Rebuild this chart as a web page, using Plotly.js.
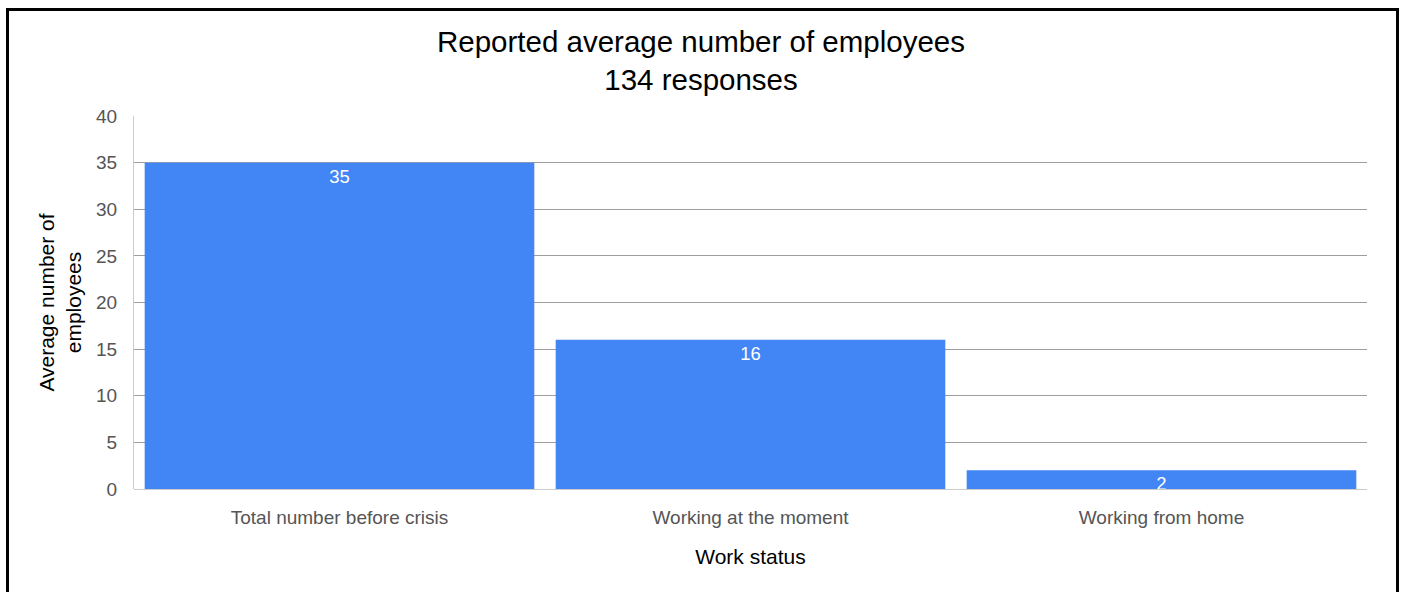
<!DOCTYPE html>
<html>
<head>
<meta charset="utf-8">
<script src="https://cdn.plot.ly/plotly-3.0.1.min.js"></script>
<style>
  html, body { margin: 0; padding: 0; background: #fff; overflow: hidden; }
  #chart { width: 1402px; height: 592px; position: absolute; left: 0; top: 0; }
  #frame { position: absolute; left: 6px; top: 8px; width: 1387px; height: 600px;
           border: 3px solid #000; pointer-events: none; }
</style>
</head>
<body>
<div id="chart"></div>
<div id="frame"></div>
<script>
const categories = ["Total number before crisis", "Working at the moment", "Working from home"];
const values = [35, 16, 2];
const yTicks = [0, 5, 10, 15, 20, 25, 30, 35, 40];

const trace = {
  type: "bar",
  x: categories,
  y: values,
  text: values.map(String),
  textposition: "inside",
  insidetextanchor: "end",
  constraintext: "none",
  textangle: 0,
  textfont: { family: "Liberation Sans, Arial, sans-serif", size: 18.5, color: "#ffffff" },
  marker: { color: "#4285F4" },
  hoverinfo: "x+y"
};

const layout = {
  width: 1402,
  height: 592,
  margin: { l: 134, r: 35, t: 116, b: 103 },
  paper_bgcolor: "#ffffff",
  plot_bgcolor: "#ffffff",
  bargap: 0.052,
  showlegend: false,
  font: { family: "Liberation Sans, Arial, sans-serif", color: "#555" },
  title: {
    text: "Reported average number of employees<br>134 responses",
    font: { family: "Liberation Sans, Arial, sans-serif", size: 29.5, color: "#000" },
    x: 0.5, xref: "container", xanchor: "center",
    y: 1 - 52 / 592, yref: "container", yanchor: "top"
  },
  xaxis: {
    type: "category",
    tickfont: { size: 19, color: "#555" },
    ticks: "",
    ticklabelstandoff: 15,
    showgrid: false,
    showline: false,
    zeroline: false,
    title: {
      text: "Work status",
      font: { size: 21, color: "#000" },
      standoff: 22
    }
  },
  yaxis: {
    range: [0, 40],
    tickvals: yTicks,
    ticktext: yTicks.map(String),
    tickfont: { size: 19, color: "#555" },
    ticks: "",
    ticklabelstandoff: 12,
    showgrid: true,
    gridcolor: "#9e9e9e",
    gridwidth: 1,
    zeroline: true,
    zerolinecolor: "#cccccc",
    zerolinewidth: 1,
    showline: true,
    linecolor: "#cccccc",
    linewidth: 1,
    title: {
      text: "Average number of<br>employees",
      font: { size: 21, color: "#000" },
      standoff: 8
    }
  }
};

Plotly.newPlot("chart", [trace], layout, { displayModeBar: false, staticPlot: true });
</script>
</body>
</html>
